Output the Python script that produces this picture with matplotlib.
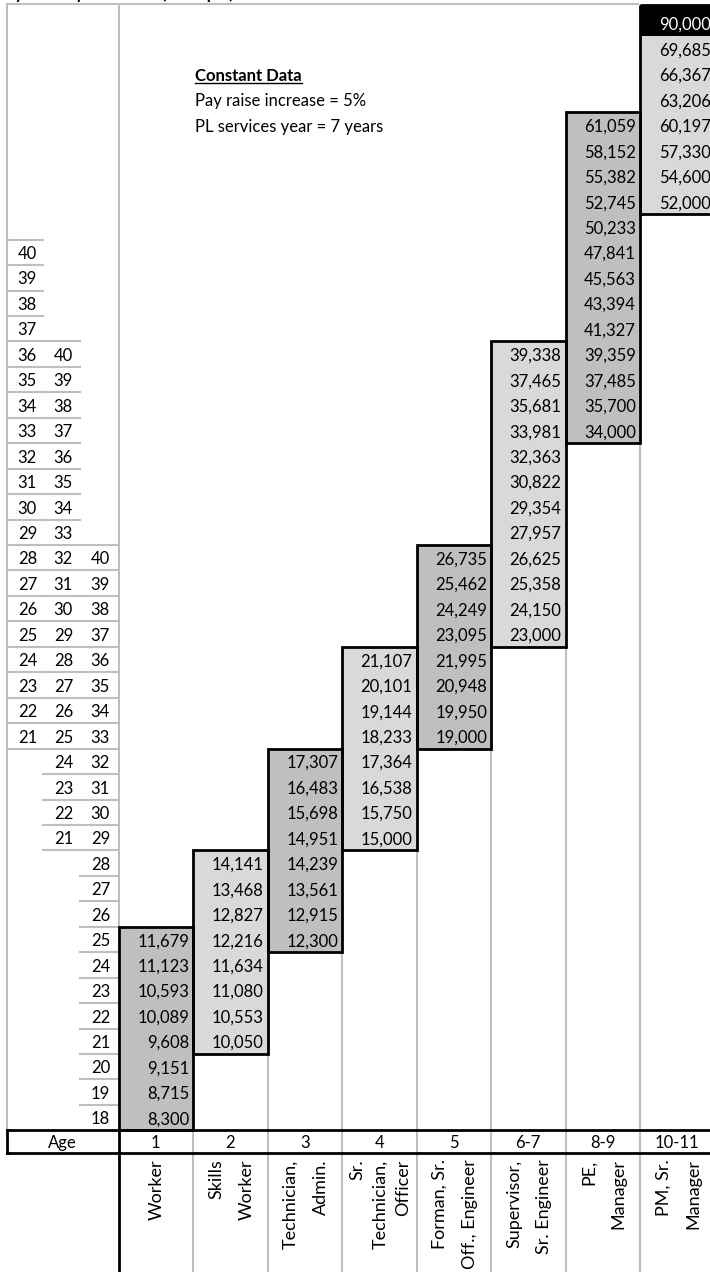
import matplotlib
matplotlib.use("Agg")
import matplotlib.pyplot as plt
from matplotlib.patches import Rectangle

plt.rcParams['font.family'] = ['Lato', 'DejaVu Sans']

# ---- data ----
grades = ['1', '2', '3', '4', '5', '6-7', '8-9', '10-11']
titles = [['Worker'], ['Skills', 'Worker'], ['Technician,', 'Admin.'],
          ['Sr.', 'Technician,', 'Officer'], ['Forman, Sr.', 'Off., Engineer'],
          ['Supervisor,', 'Sr. Engineer'], ['PE,', 'Manager'], ['PM, Sr.', 'Manager']]
# first sheet row used by each grade (row 0 = top)
start_row = [36, 33, 29, 25, 21, 13, 4, 0]
salary = [
    [11679, 11123, 10593, 10089, 9608, 9151, 8715, 8300],
    [14141, 13468, 12827, 12216, 11634, 11080, 10553, 10050],
    [17307, 16483, 15698, 14951, 14239, 13561, 12915, 12300],
    [21107, 20101, 19144, 18233, 17364, 16538, 15750, 15000],
    [26735, 25462, 24249, 23095, 21995, 20948, 19950, 19000],
    [39338, 37465, 35681, 33981, 32363, 30822, 29354, 27957, 26625, 25358, 24150, 23000],
    [61059, 58152, 55382, 52745, 50233, 47841, 45563, 43394, 41327, 39359, 37485, 35700, 34000],
    [90000, 69685, 66367, 63206, 60197, 57330, 54600, 52000],
]
age_start = [9, 13, 21]
ages = [
    [40, 39, 38, 37, 36, 35, 34, 33, 32, 31, 30, 29, 28, 27, 26, 25, 24, 23, 22, 21],
    [40, 39, 38, 37, 36, 35, 34, 33, 32, 31, 30, 29, 28, 27, 26, 25, 24, 23, 22, 21],
    [40, 39, 38, 37, 36, 35, 34, 33, 32, 31, 30, 29, 28, 27, 26, 25, 24, 23, 22, 21, 20, 19, 18],
]
notes = ['Pay raise increase = 5%', 'PL services year = 7 years']

# ---- sheet geometry (pixels) ----
W, H = 710, 1272
N_ROWS = 44
RH = 25.45
def row_top(r):
    return 5 if r == 0 else 36 + (r - 1) * RH
def row_bot(r):
    return 36 + r * RH

col_x = [118.5 + 74.5 * k for k in range(len(grades) + 1)]
age_right = [37, 73, 110]
age_left = [7, 43, 80, 118.5]
age_top = row_bot(N_ROWS - 1)
age_bot = age_top + 23

GRID = '#BFBFBF'
DARK = '#BFBFBF'
LIGHT = '#D9D9D9'
FS = 12

fig = plt.figure(figsize=(W / 100, H / 100), dpi=100)
ax = fig.add_axes([0, 0, 1, 1])
ax.set_xlim(0, W)
ax.set_ylim(H, 0)
ax.axis('off')

# cropped heading
ax.text(-4, -1, 'Pay / Salary Structure (Example)', fontsize=FS, fontweight='bold',
        va='baseline', ha='left')

# outer grey frame of the age block
ax.plot([7, 638], [4, 4], color=GRID, lw=1.5)
ax.plot([7, 7], [4, age_top], color=GRID, lw=1.5)
ax.plot([118.5, 118.5], [4, age_top], color=GRID, lw=1.5)

# age columns
for c in range(3):
    r0 = age_start[c]
    x0, x1 = age_left[c], age_left[c + 1]
    ax.plot([x0, x1], [row_top(r0), row_top(r0)], color=GRID, lw=1.5)
    for i, a in enumerate(ages[c]):
        r = r0 + i
        ax.text(age_right[c], row_bot(r) - 11, str(a), fontsize=FS,
                ha='right', va='center')
        if r < N_ROWS - 1:
            ax.plot([x0, x1], [row_bot(r), row_bot(r)], color=GRID, lw=1.5)

# grey column rules under each block
for k in range(1, len(grades)):
    below = max(start_row[k - 1] + len(salary[k - 1]), start_row[k] + len(salary[k]))
    if below < N_ROWS:
        ax.plot([col_x[k], col_x[k]], [row_top(below), age_top], color=GRID, lw=1.5)

# salary blocks
for k, vals in enumerate(salary):
    x0, x1 = col_x[k], col_x[k + 1]
    fill = DARK if k % 2 == 0 else LIGHT
    for i, v in enumerate(vals):
        r = start_row[k] + i
        top_cell = (k == len(grades) - 1 and i == 0)
        ax.add_patch(Rectangle((x0, row_top(r)), x1 - x0, row_bot(r) - row_top(r),
                               facecolor='black' if top_cell else fill, edgecolor='none'))
        ax.text(x1 - 4, row_bot(r) - 11, f'{v:,}', fontsize=FS, ha='right', va='center',
                color='white' if top_cell else 'black')
    r_first, r_last = start_row[k], start_row[k] + len(vals) - 1
    ax.add_patch(Rectangle((x0, row_top(r_first)), x1 - x0,
                           row_bot(r_last) - row_top(r_first),
                           facecolor='none', edgecolor='black', lw=2.0, zorder=3))

# constant data notes
hdr = ax.text(col_x[1] + 2, row_bot(2) - 11, 'Constant Data', fontsize=FS,
              fontweight='bold', ha='left', va='center')
for i, s in enumerate(notes):
    ax.text(col_x[1] + 2, row_bot(3 + i) - 11, s, fontsize=FS, ha='left', va='center')

# grade row
for k in range(1, len(grades)):
    ax.plot([col_x[k], col_x[k]], [age_top, H], color=GRID, lw=1.5)
ax.plot([118.5, 118.5], [age_top, H], color='black', lw=2.0)
ax.plot([7, 7], [age_top, age_bot], color='black', lw=2.0)
ax.plot([7, W], [age_top, age_top], color='black', lw=2.0)
ax.plot([7, W], [age_bot, age_bot], color='black', lw=2.0)
ax.text((7 + 118.5) / 2, (age_top + age_bot) / 2 + 1, 'Age', fontsize=FS,
        ha='center', va='center')
for k, g in enumerate(grades):
    ax.text((col_x[k] + col_x[k + 1]) / 2, (age_top + age_bot) / 2 + 1, g,
            fontsize=FS, ha='center', va='center')

# job titles, rotated, each line ending at the top of the cell
for k, lines in enumerate(titles):
    pitch = 30 if len(lines) <= 2 else 22.5
    xc = (col_x[k] + col_x[k + 1]) / 2 + 1
    for j, s in enumerate(lines):
        xj = xc + (j - (len(lines) - 1) / 2) * pitch
        ax.text(xj, age_bot + 6, s, fontsize=13, rotation=90,
                ha='center', va='top')

# underline the notes heading
fig.canvas.draw()
bb = hdr.get_window_extent().transformed(ax.transData.inverted())
ax.plot([bb.x0, bb.x1], [bb.y0 - 1, bb.y0 - 1], color='black', lw=1.0)

fig.savefig('out.png', dpi=100)
